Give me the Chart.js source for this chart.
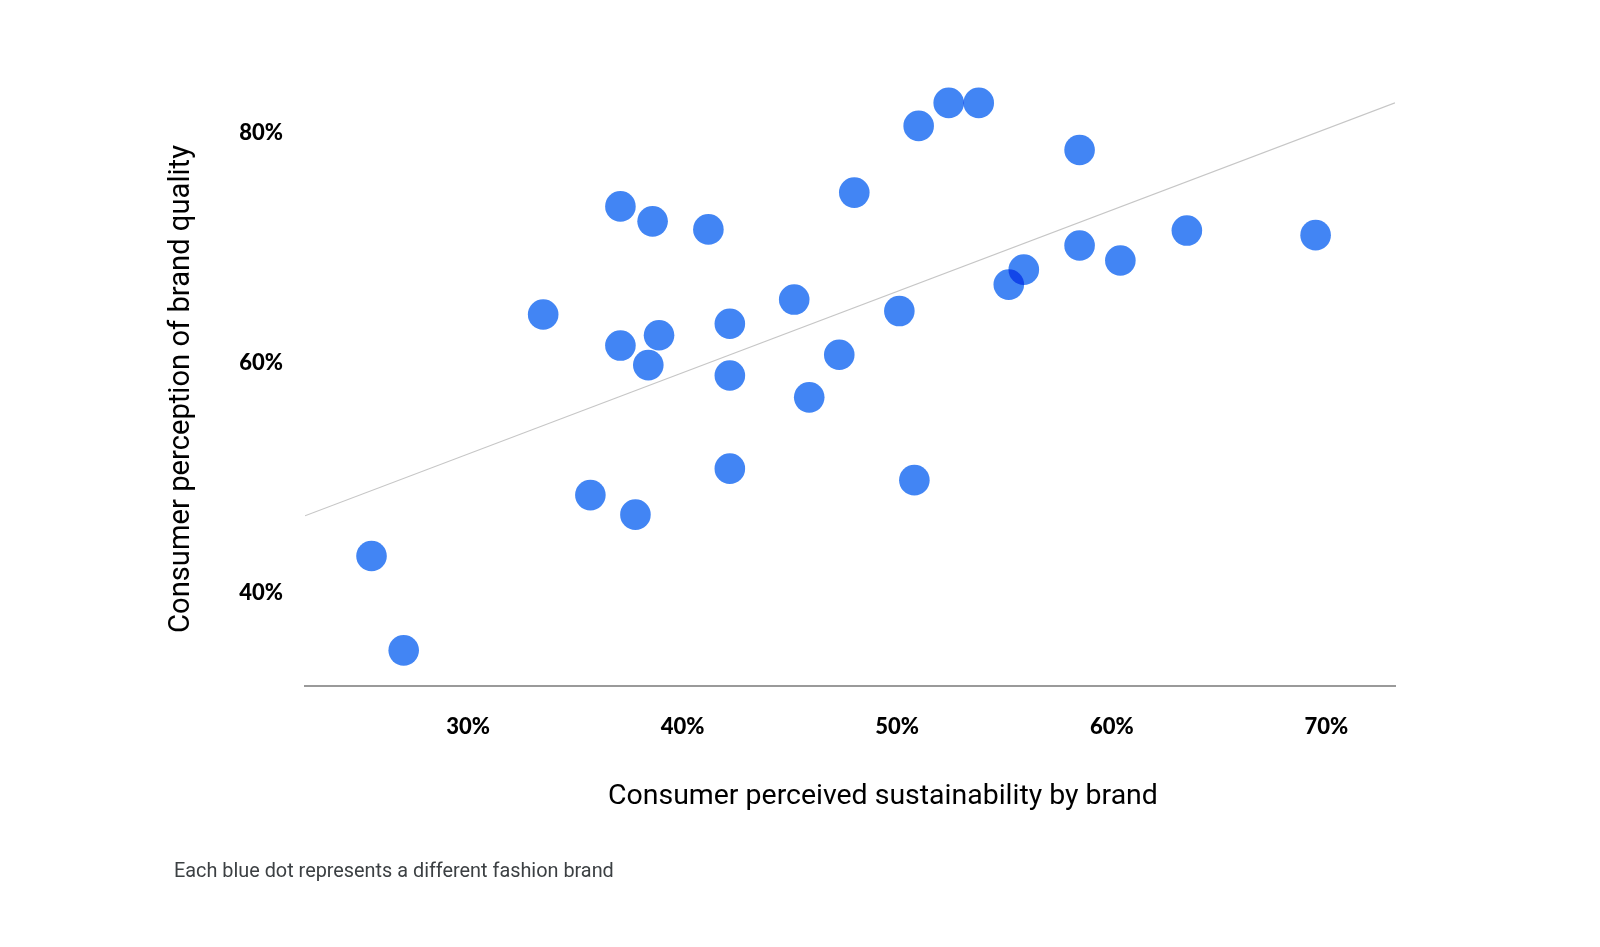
<!DOCTYPE html>
<html>
<head>
<meta charset="utf-8">
<title>Sustainability vs quality</title>
<script src="https://cdn.jsdelivr.net/npm/chart.js@4/dist/chart.umd.min.js"></script>
<style>
  html, body { margin: 0; padding: 0; background: #fff; }
  #wrap { width: 1600px; height: 947px; }
</style>
</head>
<body>
<div id="wrap"><canvas id="scatterChart" width="1600" height="947"></canvas></div>
<script>
// one entry per brand (in %)
const sustainability = [25.5, 27.0, 33.5, 35.7, 37.1, 37.1, 37.8, 38.4, 38.6, 38.9,
                        41.2, 42.2, 42.2, 42.2, 45.2, 45.9, 47.3, 48.0, 50.1, 50.8,
                        51.0, 52.4, 53.8, 55.2, 55.9, 58.5, 58.5, 60.4, 63.5, 69.5];
const quality = [43.2, 35.0, 64.2, 48.5, 73.6, 61.5, 46.8, 59.8, 72.3, 62.4,
                 71.6, 63.4, 58.9, 50.8, 65.5, 57.0, 60.7, 74.8, 64.5, 49.8,
                 80.6, 82.6, 82.6, 66.8, 68.1, 78.5, 70.2, 68.9, 71.5, 71.1];

// trend line end points
const trendX = [22.4, 73.2];
const trendY = [46.7, 82.6];

const xTicks = [30, 40, 50, 60, 70];
const yTicks = [40, 60, 80];

const xTitle = "Consumer perceived sustainability by brand";
const yTitle = "Consumer perception of brand quality";
const footnote = "Each blue dot represents a different fashion brand";

// pick a font size so the text spans the given width
function fitSize(ctx, text, weight, family, width) {
    ctx.font = weight + " 100px " + family;
    return 100 * width / ctx.measureText(text).width;
}

// overlapping dots get darker
const blendPlugin = {
    id: "blend",
    beforeDatasetDraw(chart, args) {
        if (args.meta.type === "scatter") {
            chart.ctx.save();
            chart.ctx.globalCompositeOperation = "multiply";
        }
    },
    afterDatasetDraw(chart, args) {
        if (args.meta.type === "scatter") chart.ctx.restore();
    }
};

// axis titles and the note under the chart
const textPlugin = {
    id: "texts",
    afterDraw(chart) {
        const ctx = chart.ctx;
        ctx.save();
        ctx.textBaseline = "alphabetic";

        ctx.fillStyle = "#000";
        let size = fitSize(ctx, xTitle, "400", "Roboto", 550);
        ctx.font = "400 " + size + "px Roboto";
        ctx.textAlign = "left";
        ctx.fillText(xTitle, 608, 804);

        size = fitSize(ctx, yTitle, "400", "Roboto", 488);
        ctx.font = "400 " + size + "px Roboto";
        ctx.save();
        ctx.translate(189, 389);
        ctx.rotate(-Math.PI / 2);
        ctx.textAlign = "center";
        ctx.fillText(yTitle, 0, 0);
        ctx.restore();

        ctx.fillStyle = "#3c4043";
        size = fitSize(ctx, footnote, "400", "Roboto", 440);
        ctx.font = "400 " + size + "px Roboto";
        ctx.textAlign = "left";
        ctx.fillText(footnote, 174, 877);

        ctx.restore();
    }
};

const tickFont = { family: "Lato", size: 22, weight: "900" };

new Chart(document.getElementById("scatterChart").getContext("2d"), {
    type: "scatter",
    data: {
        datasets: [
            {
                type: "scatter",
                label: "Brands",
                data: sustainability.map((x, i) => ({ x: x, y: quality[i] })),
                backgroundColor: "#4285F4",
                borderWidth: 0,
                pointRadius: 15.3,
                pointHoverRadius: 15.3,
                order: 1
            },
            {
                type: "line",
                label: "Trend",
                data: trendX.map((x, i) => ({ x: x, y: trendY[i] })),
                borderColor: "#c6c6c6",
                borderWidth: 1.2,
                pointRadius: 0,
                fill: false,
                order: 2
            }
        ]
    },
    options: {
        responsive: false,
        animation: false,
        layout: { padding: { left: 0, top: 86.8, right: 205, bottom: 0 } },
        plugins: {
            legend: { display: false },
            tooltip: { enabled: false }
        },
        scales: {
            x: {
                type: "linear",
                min: 22.4,
                max: 73.2,
                afterFit(scale) { scale.height = 261; },
                afterBuildTicks(scale) { scale.ticks = xTicks.map(v => ({ value: v })); },
                grid: { display: false, drawTicks: false },
                border: { display: true, color: "#9a9a9a", width: 2 },
                ticks: {
                    padding: 28,
                    color: "#000",
                    font: tickFont,
                    maxRotation: 0,
                    callback: v => v + "%"
                }
            },
            y: {
                type: "linear",
                min: 31.9,
                max: 84,
                afterFit(scale) { scale.width = 305; },
                afterBuildTicks(scale) { scale.ticks = yTicks.map(v => ({ value: v })); },
                grid: { display: false, drawTicks: false },
                border: { display: false },
                ticks: {
                    padding: 22,
                    color: "#000",
                    font: tickFont,
                    callback: v => v + "%"
                }
            }
        }
    },
    plugins: [blendPlugin, textPlugin]
});
</script>
</body>
</html>
